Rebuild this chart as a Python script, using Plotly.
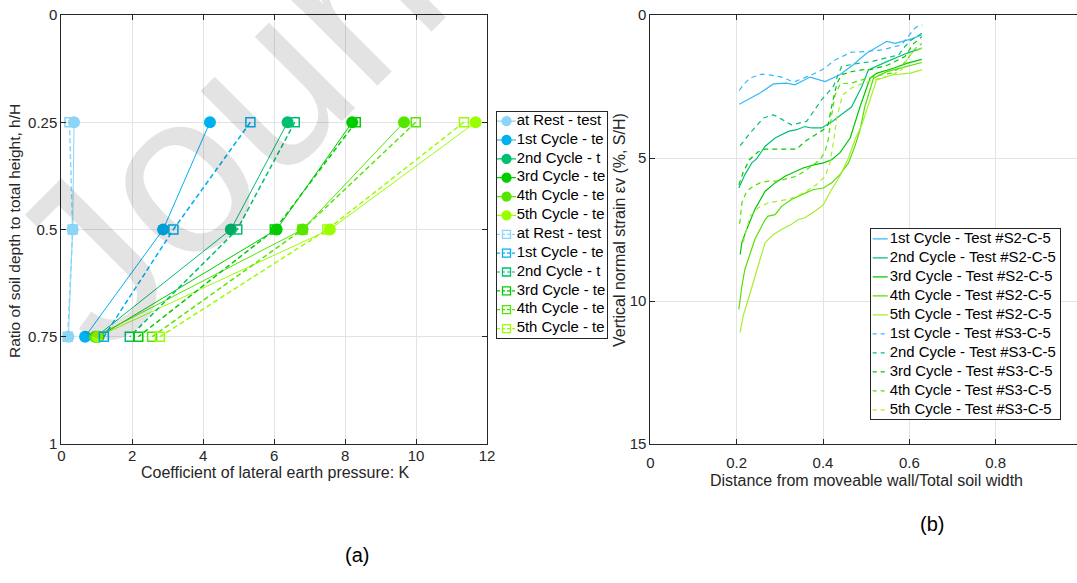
import plotly.graph_objects as go

W, H = 1077, 583

# ---------------- (a) coefficient of lateral earth pressure vs depth ----------------
depth_ratio = [0.25, 0.5, 0.75]

# first test (filled circles, solid lines)
k_rest_t1 = [0.36, 0.32, 0.20]
k_cyc1_t1 = [4.19, 2.87, 0.67]
k_cyc2_t1 = [6.38, 4.78, 0.98]
k_cyc3_t1 = [8.20, 6.07, 1.05]
k_cyc4_t1 = [9.66, 6.80, 0.95]
k_cyc5_t1 = [11.68, 7.57, 1.02]

# second test (open squares, dashed lines)
k_rest_t2 = [0.23, 0.32, 0.18]
k_cyc1_t2 = [5.33, 3.16, 1.20]
k_cyc2_t2 = [6.58, 4.96, 1.93]
k_cyc3_t2 = [8.30, 6.02, 2.17]
k_cyc4_t2 = [9.99, 6.80, 2.56]
k_cyc5_t2 = [11.35, 7.50, 2.78]

names_a_t1 = ["at Rest - test", "1st Cycle - te", "2nd Cycle - t",
              "3rd Cycle - te", "4th Cycle - te", "5th Cycle - te"]
names_a_t2 = ["at Rest - test", "1st Cycle - te", "2nd Cycle - t",
              "3rd Cycle - te", "4th Cycle - te", "5th Cycle - te"]
colors_a = ["#8BD5F7", "#00B0F0", "#00BF70", "#00CC00", "#55E600", "#99FF00"]

# ---------------- (b) vertical strain vs distance from moveable wall ----------------
s2_c1_x = [0.206, 0.231, 0.254, 0.285, 0.316, 0.335, 0.370, 0.405, 0.439, 0.470, 0.501, 0.548, 0.567, 0.602, 0.629]
s2_c1_y = [3.12, 2.93, 2.73, 2.41, 2.38, 2.44, 2.17, 2.33, 2.09, 1.74, 1.34, 0.92, 0.99, 0.85, 0.70]

s2_c2_x = [0.205, 0.219, 0.235, 0.246, 0.266, 0.289, 0.320, 0.339, 0.358, 0.374, 0.397, 0.424, 0.445, 0.466, 0.490, 0.505, 0.548, 0.594, 0.629]
s2_c2_y = [6.05, 5.58, 5.17, 5.03, 4.59, 4.30, 4.07, 4.01, 3.90, 3.95, 3.95, 3.70, 3.45, 3.22, 2.50, 1.92, 1.63, 1.34, 1.16]

s2_c3_x = [0.208, 0.212, 0.223, 0.242, 0.266, 0.289, 0.312, 0.339, 0.354, 0.381, 0.401, 0.420, 0.439, 0.463, 0.486, 0.509, 0.524, 0.563, 0.594, 0.629]
s2_c3_y = [8.37, 7.96, 7.50, 6.80, 6.16, 5.87, 5.64, 5.46, 5.35, 5.23, 5.17, 5.06, 4.82, 4.30, 3.20, 2.21, 2.04, 1.86, 1.69, 1.55]

s2_c4_x = [0.205, 0.212, 0.219, 0.231, 0.242, 0.250, 0.266, 0.273, 0.289, 0.304, 0.327, 0.351, 0.378, 0.401, 0.420, 0.439, 0.459, 0.474, 0.486, 0.497, 0.517, 0.548, 0.594, 0.629]
s2_c4_y = [10.29, 9.48, 8.89, 8.31, 7.85, 7.61, 7.15, 7.03, 6.98, 6.69, 6.45, 6.28, 6.10, 6.05, 5.87, 5.58, 5.17, 4.59, 4.01, 3.20, 2.21, 1.98, 1.80, 1.66]

s2_c5_x = [0.208, 0.215, 0.227, 0.242, 0.254, 0.266, 0.285, 0.304, 0.327, 0.343, 0.358, 0.381, 0.401, 0.420, 0.439, 0.459, 0.474, 0.490, 0.505, 0.524, 0.563, 0.602, 0.629]
s2_c5_y = [11.10, 10.52, 9.94, 9.13, 8.55, 7.96, 7.67, 7.50, 7.32, 7.15, 7.09, 6.86, 6.63, 6.10, 5.64, 5.00, 4.36, 3.84, 3.14, 2.27, 2.09, 2.03, 1.92]

s3_c1_x = [0.206, 0.215, 0.231, 0.258, 0.280, 0.304, 0.325, 0.335, 0.374, 0.400, 0.428, 0.466, 0.497, 0.536, 0.582, 0.598, 0.610, 0.621, 0.630]
s3_c1_y = [2.64, 2.45, 2.20, 2.07, 2.10, 2.17, 2.30, 2.33, 2.09, 1.90, 1.57, 1.30, 1.28, 1.22, 1.05, 0.72, 0.50, 0.37, 0.35]

s3_c2_x = [0.208, 0.231, 0.262, 0.285, 0.305, 0.327, 0.362, 0.397, 0.424, 0.443, 0.482, 0.513, 0.544, 0.575, 0.590, 0.605, 0.629]
s3_c2_y = [4.57, 4.13, 3.60, 3.49, 3.65, 3.84, 3.72, 2.96, 2.50, 1.80, 1.69, 1.63, 1.51, 1.40, 1.10, 0.87, 0.64]

s3_c3_x = [0.205, 0.215, 0.230, 0.250, 0.266, 0.300, 0.339, 0.358, 0.381, 0.401, 0.412, 0.420, 0.432, 0.443, 0.466, 0.490, 0.513, 0.550, 0.590, 0.610, 0.629]
s3_c3_y = [5.95, 5.50, 5.05, 4.78, 4.69, 4.70, 4.69, 4.42, 4.19, 4.01, 3.84, 3.20, 2.40, 2.09, 1.98, 1.92, 1.90, 1.75, 1.45, 1.00, 0.76]

s3_c4_x = [0.207, 0.212, 0.223, 0.238, 0.254, 0.273, 0.293, 0.320, 0.339, 0.362, 0.378, 0.393, 0.405, 0.412, 0.420, 0.428, 0.440, 0.466, 0.490, 0.513, 0.536, 0.559, 0.582, 0.600, 0.615, 0.629]
s3_c4_y = [7.30, 6.57, 6.16, 5.99, 5.87, 5.81, 5.81, 5.70, 5.64, 5.41, 5.23, 5.06, 4.77, 4.36, 3.50, 2.80, 2.40, 2.38, 2.27, 2.17, 2.09, 2.03, 1.80, 1.45, 1.15, 1.00]

s3_c5_x = [0.215, 0.222, 0.231, 0.250, 0.273, 0.296, 0.316, 0.339, 0.362, 0.385, 0.405, 0.416, 0.424, 0.432, 0.445, 0.466, 0.490, 0.513, 0.536, 0.559, 0.582, 0.594, 0.605, 0.629]
s3_c5_y = [7.95, 7.55, 7.03, 6.74, 6.57, 6.51, 6.45, 6.34, 6.16, 5.93, 5.64, 5.17, 4.48, 3.60, 2.80, 2.55, 2.40, 2.30, 2.20, 2.10, 1.92, 1.57, 1.34, 1.16]

names_b_s2 = ["1st Cycle - Test #S2-C-5", "2nd Cycle - Test #S2-C-5", "3rd Cycle - Test #S2-C-5",
              "4th Cycle - Test #S2-C-5", "5th Cycle - Test #S2-C-5"]
names_b_s3 = ["1st Cycle - Test #S3-C-5", "2nd Cycle - Test #S3-C-5", "3rd Cycle - Test #S3-C-5",
              "4th Cycle - Test #S3-C-5", "5th Cycle - Test #S3-C-5"]
colors_b = ["#33B8F8", "#00C07A", "#00C800", "#55E000", "#A6EE2A"]

AX = "#262626"
FONT = "Arial"


def px_x(p):
    return p / W


def px_y(p):
    return 1 - p / H


fig = go.Figure()

# ---- panel (a) traces ----
series_t1 = [k_rest_t1, k_cyc1_t1, k_cyc2_t1, k_cyc3_t1, k_cyc4_t1, k_cyc5_t1]
series_t2 = [k_rest_t2, k_cyc1_t2, k_cyc2_t2, k_cyc3_t2, k_cyc4_t2, k_cyc5_t2]
for vals, col in zip(series_t1, colors_a):
    fig.add_trace(go.Scatter(x=vals, y=depth_ratio, mode="lines+markers",
                             line=dict(color=col, width=1),
                             marker=dict(symbol="circle", size=12, color=col),
                             showlegend=False, xaxis="x", yaxis="y"))
for vals, col in zip(series_t2, colors_a):
    fig.add_trace(go.Scatter(x=vals, y=depth_ratio, mode="lines+markers",
                             line=dict(color=col, width=1.5, dash="5px,3px"),
                             marker=dict(symbol="square-open", size=9, color=col,
                                         line=dict(width=1.5, color=col)),
                             showlegend=False, xaxis="x", yaxis="y"))

# ---- panel (b) traces ----
s2_xs = [s2_c1_x, s2_c2_x, s2_c3_x, s2_c4_x, s2_c5_x]
s2_ys = [s2_c1_y, s2_c2_y, s2_c3_y, s2_c4_y, s2_c5_y]
s3_xs = [s3_c1_x, s3_c2_x, s3_c3_x, s3_c4_x, s3_c5_x]
s3_ys = [s3_c1_y, s3_c2_y, s3_c3_y, s3_c4_y, s3_c5_y]
for xs, ys, col in zip(s2_xs, s2_ys, colors_b):
    fig.add_trace(go.Scatter(x=xs, y=ys, mode="lines", line=dict(color=col, width=1.2),
                             showlegend=False, xaxis="x2", yaxis="y2"))
for xs, ys, col in zip(s3_xs, s3_ys, colors_b):
    fig.add_trace(go.Scatter(x=xs, y=ys, mode="lines",
                             line=dict(color=col, width=1.2, dash="5px,4px"),
                             showlegend=False, xaxis="x2", yaxis="y2"))


# ---- boxed legends drawn on their own small axes ----
def boxed_legend(xa, ya, box_w, entries, line_x0, line_x1, text_x, font_size):
    n = len(entries)
    # white background so grid lines underneath are hidden
    fig.add_trace(go.Scatter(x=[0, box_w, box_w, 0, 0], y=[0, 0, n, n, 0], mode="lines",
                             fill="toself", fillcolor="white", line=dict(width=0),
                             hoverinfo="skip", showlegend=False, xaxis=xa, yaxis=ya))
    for i, (label, col, dash, sym) in enumerate(entries):
        yc = i + 0.5
        fig.add_trace(go.Scatter(x=[line_x0, line_x1], y=[yc, yc], mode="lines",
                                 line=dict(color=col, width=1.2, dash=dash),
                                 hoverinfo="skip", showlegend=False, xaxis=xa, yaxis=ya))
        if sym is not None:
            filled = sym == "circle"
            fig.add_trace(go.Scatter(x=[(line_x0 + line_x1) / 2], y=[yc], mode="markers",
                                     marker=dict(symbol=sym, size=9 if filled else 8, color=col,
                                                 line=dict(width=1.3, color=col)),
                                     hoverinfo="skip", showlegend=False, xaxis=xa, yaxis=ya))
        fig.add_trace(go.Scatter(x=[text_x], y=[yc], mode="text", text=[label],
                                 textposition="middle right", cliponaxis=True,
                                 textfont=dict(family=FONT, size=font_size, color="#000000"),
                                 hoverinfo="skip", showlegend=False, xaxis=xa, yaxis=ya))


# legend (a)
la_x0, la_x1, la_y0, la_y1 = 497, 607, 111.7, 338
entries_a = [(nm, c, "solid", "circle") for nm, c in zip(names_a_t1, colors_a)] + \
            [(nm, c, "3px,2px", "square-open") for nm, c in zip(names_a_t2, colors_a)]
boxed_legend("x3", "y3", la_x1 - la_x0, entries_a, 0, 19, 19.7, 14.9)

# legend (b)
lb_x0, lb_x1, lb_y0, lb_y1 = 870.7, 1060, 229.3, 419.3
entries_b = [(nm, c, "solid", None) for nm, c in zip(names_b_s2, colors_b)] + \
            [(nm, c, "4px,4px", None) for nm, c in zip(names_b_s3, colors_b)]
boxed_legend("x4", "y4", lb_x1 - lb_x0, entries_b, 2, 17, 19, 14.9)

tickfont = dict(family=FONT, size=15, color=AX)
axis_common = dict(showline=True, linecolor=AX, linewidth=1, ticks="inside",
                   ticklen=5, tickcolor=AX, tickwidth=1, showgrid=True, gridcolor="#e3e3e3",
                   gridwidth=1, zeroline=False, tickfont=tickfont, fixedrange=True,
                   automargin=False)
legend_axis = dict(showline=True, linecolor=AX, linewidth=1, mirror=True, ticks="",
                   showgrid=False, zeroline=False, showticklabels=False, fixedrange=True,
                   automargin=False)

plot_top, plot_bot = 15, 444
fig.update_layout(
    width=W, height=H, margin=dict(l=0, r=0, t=0, b=0, pad=0, autoexpand=False),
    paper_bgcolor="white", plot_bgcolor="white", showlegend=False,
    xaxis=dict(domain=[px_x(61.3), px_x(487)], range=[0, 12], tickvals=[0, 2, 4, 6, 8, 10, 12],
               anchor="y", mirror="ticks", ticklabelstandoff=-2, **axis_common),
    yaxis=dict(domain=[px_y(plot_bot), px_y(plot_top)], range=[1, 0],
               tickvals=[0, 0.25, 0.5, 0.75, 1], ticktext=["0", "0.25", "0.5", "0.75", "1"],
               anchor="x", mirror="ticks", **axis_common),
    xaxis2=dict(domain=[px_x(650.4), 1], range=[0, (W - 650.4) / 431.5],
                tickvals=[0, 0.2, 0.4, 0.6, 0.8, 1], ticktext=["0", "0.2", "0.4", "0.6", "0.8", "1"],
                anchor="y2", mirror="ticks", ticklabelstandoff=5, **axis_common),
    yaxis2=dict(domain=[px_y(plot_bot), px_y(plot_top)], range=[15, 0], tickvals=[0, 5, 10, 15],
                anchor="x2", mirror=False, **axis_common),
    xaxis3=dict(domain=[px_x(la_x0), px_x(la_x1)], range=[0, la_x1 - la_x0], anchor="y3", **legend_axis),
    yaxis3=dict(domain=[px_y(la_y1), px_y(la_y0)], range=[len(entries_a), 0], anchor="x3", **legend_axis),
    xaxis4=dict(domain=[px_x(lb_x0), px_x(lb_x1)], range=[0, lb_x1 - lb_x0], anchor="y4", **legend_axis),
    yaxis4=dict(domain=[px_y(lb_y1), px_y(lb_y0)], range=[len(entries_b), 0], anchor="x4", **legend_axis),
)

annotations = [
    dict(text="Ratio of soil depth to total height, h/H", x=px_x(14), y=px_y(231), textangle=-90, size=15.5),
    dict(text="Coefficient of lateral earth pressure: K", x=px_x(275), y=px_y(472), size=16),
    dict(text="Vertical normal strain \u03b5v (%, S/H)", x=px_x(619), y=px_y(230), textangle=-90, size=16),
    dict(text="Distance from moveable wall/Total soil width", x=px_x(866), y=px_y(481), size=16),
]
for a in annotations:
    size = a.pop("size")
    fig.add_annotation(xref="paper", yref="paper", showarrow=False, xanchor="center",
                       yanchor="middle", font=dict(family=FONT, size=size, color=AX), **a)

fig.add_annotation(text="(a)", x=px_x(343), y=px_y(568), xref="paper", yref="paper",
                   showarrow=False, font=dict(family=FONT, size=20, color="#000000"))
fig.add_annotation(text="(b)", x=px_x(946), y=px_y(537), xref="paper", yref="paper",
                   showarrow=False, font=dict(family=FONT, size=20, color="#000000"))

# faint diagonal watermark across panel (a)
fig.add_annotation(text="Journal Pre-proof", x=px_x(676), y=px_y(-326), xref="paper", yref="paper",
                   showarrow=False, textangle=-45, xanchor="center", yanchor="middle",
                   font=dict(family=FONT, size=230, color="rgba(0,0,0,0.11)"))

fig.write_html("out.html")
